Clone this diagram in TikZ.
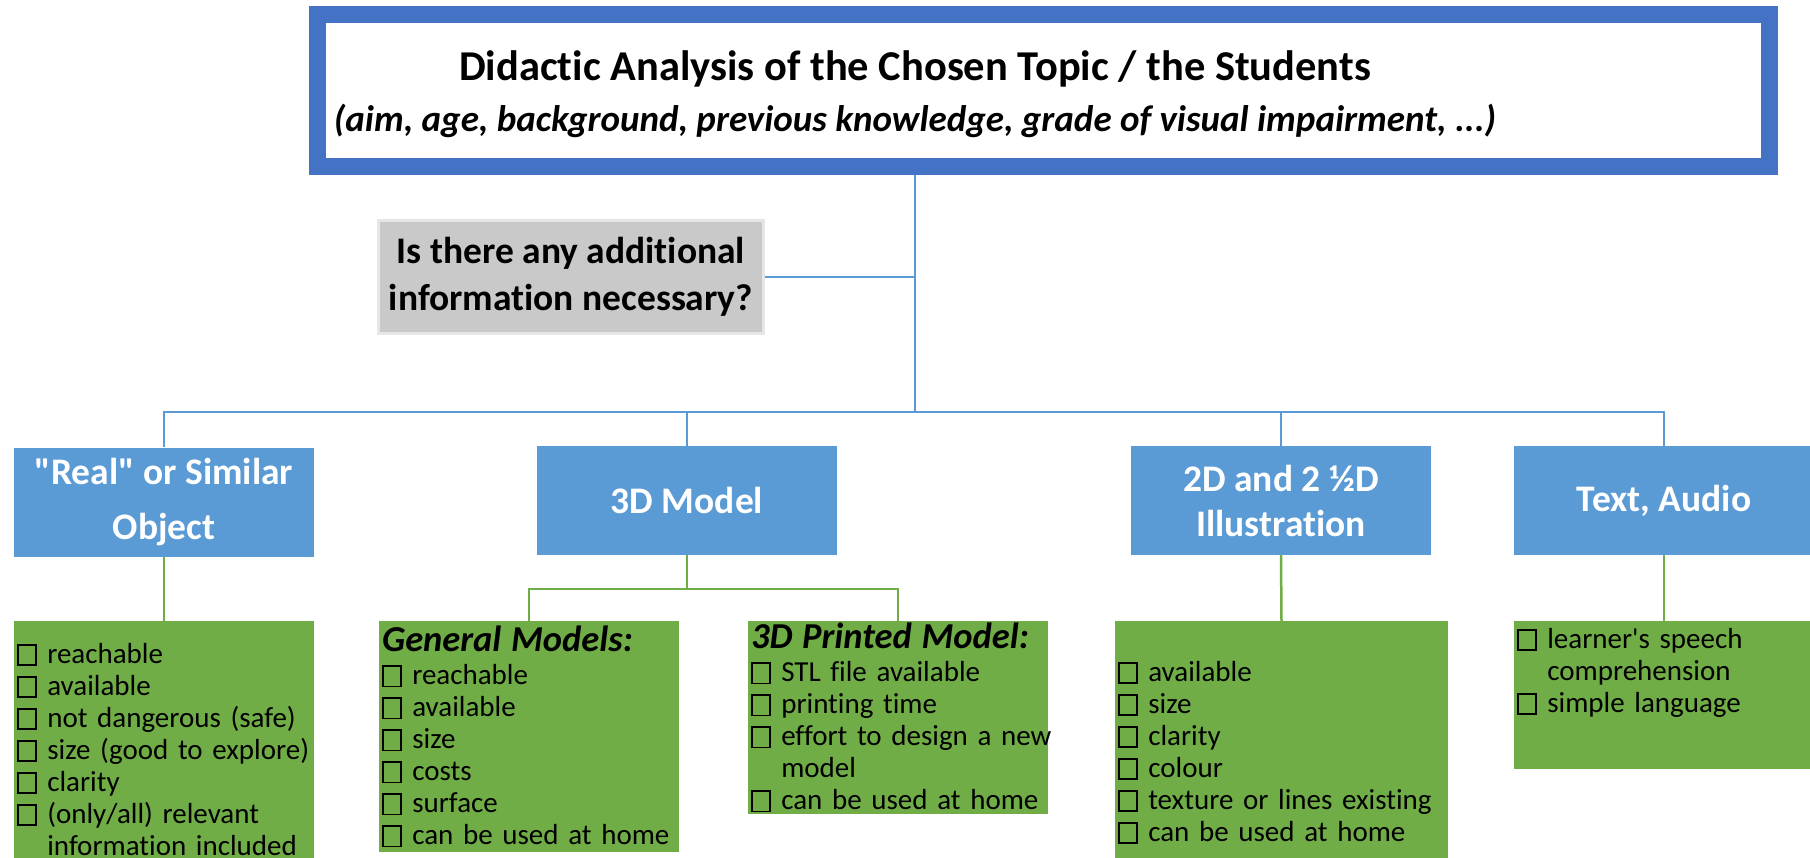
\documentclass[tikz,border=0pt]{standalone}
\usepackage{fontspec}
\setmainfont{Carlito}[Ligatures={TeXOff,CommonOff}]
\usepackage{xcolor}
\usepackage{tikz}
\usetikzlibrary{calc}

\definecolor{topblue}{HTML}{4472C4}
\definecolor{catblue}{HTML}{5B9BD5}
\definecolor{listgreen}{HTML}{70AD47}
\definecolor{askgray}{HTML}{C9C9C9}
\definecolor{askrim}{HTML}{E6E6E6}

\newcommand{\chk}{\raisebox{-0.03em}{\setlength{\fboxsep}{0pt}\setlength{\fboxrule}{1.8pt}\fbox{\rule{0pt}{0.64em}\hspace{0.56em}}}\hspace{0.36em}}
\newcommand{\hang}{\phantom{\chk}}
\newcommand{\head}[1]{{\fontsize{36.5}{32}\selectfont\bfseries\itshape #1}\\[1pt]}

\tikzset{
	topic/.style={draw=topblue,line width=17pt,fill=white,minimum width=1452pt,minimum height=152pt},
	title/.style={align=center,font=\fontsize{37}{51}\selectfont\bfseries},
	ask/.style={draw=askrim,line width=3pt,fill=askgray,minimum width=385pt,minimum height=113pt,align=center,font=\fontsize{37.5}{47}\selectfont\bfseries},
	cat/.style={fill=catblue,minimum width=300pt,minimum height=109pt,align=center,text=white,font=\fontsize{37.5}{45}\selectfont\bfseries},
	list/.style={fill=listgreen,anchor=north,align=left,inner xsep=3pt,inner ysep=3pt,font=\fontsize{29}{32}\selectfont},
	bus/.style={catblue,line width=2.5pt},
	twig/.style={listgreen,line width=2.5pt}
}

\begin{document}
\begin{tikzpicture}[x=1pt,y=-1pt]
	\useasboundingbox (0,0) rectangle (1810,857);
	\clip (0,0) rectangle (1810,857);
	\coordinate (hub) at (915,412);
	\coordinate (split) at (687,589);
	% top box and question
	\node[topic] (topic) at (1043.5,90.5) {};
	\node[title] (titletext) at (915,94) {{\fontsize{42.5}{51}\selectfont Didactic Analysis of the Chosen Topic / the Students}\\{\itshape(aim, age, background, previous knowledge, grade of visual impairment, ...)}};
	\node[ask] (ask) at (571,277) {Is there any additional\\information necessary?};
	\draw[bus] (topic.south -| hub) -- (hub);
	\draw[bus] (ask.east) -- (ask.east -| hub);
	% the four kinds of material
	\node[cat] (real) at (164,502) {"Real" or Similar\\[10pt]Object};
	\node[cat] (model) at (687,500.5) {3D Model};
	\node[cat] (illus) at (1281,500.5) {2D and 2 ½D\\Illustration};
	\node[cat] (media) at (1664,500.5) {Text, Audio};
	\draw[bus] (hub) -| (real.north);
	\draw[bus] (hub) -| (model.north);
	\draw[bus] (hub) -| (illus.north);
	\draw[bus] (hub) -| (media.north);
	% check lists
	\node[list,text width=294pt,inner ysep=22pt] (reallist) at (164,621) {\chk reachable\\\chk available\\\chk not dangerous (safe)\\\chk size (good to explore)\\\chk clarity\\\chk (only/all) relevant\\\hang information included};
	\node[list,text width=294pt,inner ysep=5pt] (general) at (529,621) {\head{General Models:}\chk reachable\\\chk available\\\chk size\\\chk costs\\\chk surface\\\chk can be used at home};
	\node[list,text width=294pt,inner ysep=2pt] (printed) at (898,621) {\head{3D Printed Model:}\chk STL file available\\\chk printing time\\\mbox{\chk effort to design a new}\\\hang model\\\chk can be used at home};
	\node[list,text width=327pt,inner ysep=6pt] (illuslist) at (1281.5,621) {\strut\\\chk available\\\chk size\\\chk clarity\\\chk colour\\\chk texture or lines existing\\\chk can be used at home\\\mbox{}};
	\node[list,text width=294pt,inner ysep=7pt] (medialist) at (1664,621) {\chk learner's speech\\\hang comprehension\\\chk simple language\rule[-50pt]{0pt}{1pt}};
	\draw[twig] (real.south) -- (reallist.north);
	\draw[twig] (model.south) -- (split) -| (general.north);
	\draw[twig] (split) -| (printed.north);
	\draw[twig] (illus.south) -- (illuslist.north);
	\draw[twig] (media.south) -- (medialist.north);
\end{tikzpicture}
\end{document}
